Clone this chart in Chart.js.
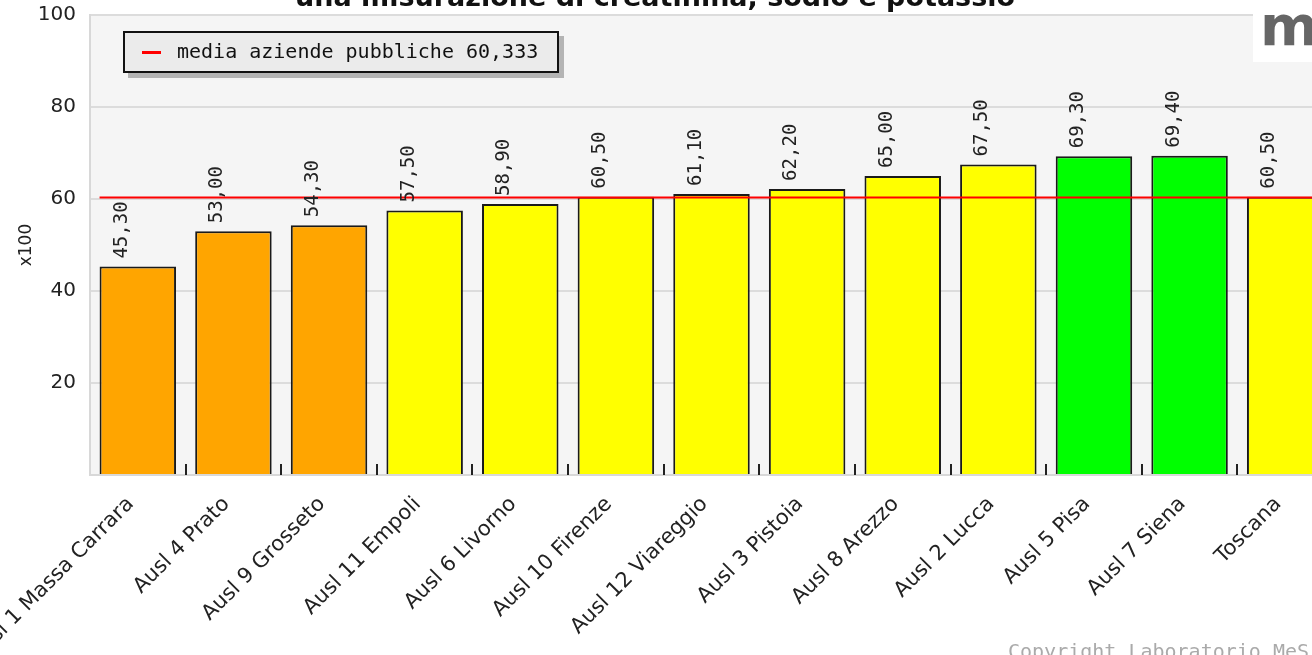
<!DOCTYPE html>
<html lang="it">
<head>
<meta charset="utf-8">
<title>Ausl Toscana</title>
<script src="https://cdn.jsdelivr.net/npm/chart.js@4.4.1/dist/chart.umd.min.js"></script>
<style>
  html, body { margin: 0; padding: 0; background: #fff; overflow: hidden; }
  #wrap { width: 1345px; height: 655px; }
</style>
</head>
<body>
<div id="wrap"><canvas id="grafico" width="1345" height="655"></canvas></div>
<script>
// aziende ordinate per valore, Toscana in coda
const AZIENDE = [
  "Ausl 1 Massa Carrara", "Ausl 4 Prato", "Ausl 9 Grosseto", "Ausl 11 Empoli",
  "Ausl 6 Livorno", "Ausl 10 Firenze", "Ausl 12 Viareggio", "Ausl 3 Pistoia",
  "Ausl 8 Arezzo", "Ausl 2 Lucca", "Ausl 5 Pisa", "Ausl 7 Siena", "Toscana"
];
const VALORI = [45.30, 53.00, 54.30, 57.50, 58.90, 60.50, 61.10, 62.20, 65.00, 67.50, 69.30, 69.40, 60.50];
const FASCE  = ["bassa", "bassa", "bassa", "media", "media", "media", "media", "media", "media", "media", "alta", "alta", "media"];
const MEDIA_PUBBLICHE = 60.333;
const TICKS_Y = [20, 40, 60, 80, 100];

const COLORI = { bassa: "#FFA500", media: "#FFFF00", alta: "#00FF00" };
const MONO = "'DejaVu Sans Mono', monospace";
const SANS = "'DejaVu Sans', sans-serif";

const virgola = (v, d) => v.toFixed(d).replace(".", ",");

// sfondo grigio dell'area del grafico
const sfondo = {
  id: "sfondo",
  beforeDraw(chart) {
    const { ctx, chartArea: a } = chart;
    ctx.save();
    ctx.fillStyle = "#f5f5f5";
    ctx.fillRect(a.left, a.top, a.right - a.left, a.bottom - a.top);
    ctx.restore();
  }
};

// tacche corte in basso tra una barra e l'altra
const tacche = {
  id: "tacche",
  afterDatasetsDraw(chart) {
    const { ctx, chartArea: a, scales: { x } } = chart;
    ctx.save();
    ctx.strokeStyle = "#222";
    ctx.lineWidth = 2;
    for (let i = 1; i < AZIENDE.length; i++) {
      const px = Math.round((x.getPixelForValue(i - 1) + x.getPixelForValue(i)) / 2);
      ctx.beginPath();
      ctx.moveTo(px, a.bottom - 11);
      ctx.lineTo(px, a.bottom);
      ctx.stroke();
    }
    ctx.restore();
  }
};

// valori scritti in verticale sopra ogni barra
const etichette = {
  id: "etichette",
  afterDatasetsDraw(chart) {
    const { ctx } = chart;
    const meta = chart.getDatasetMeta(0);
    ctx.save();
    ctx.font = "19px " + MONO;
    ctx.fillStyle = "#222";
    ctx.textAlign = "left";
    ctx.textBaseline = "alphabetic";
    meta.data.forEach((bar, i) => {
      ctx.save();
      ctx.translate(bar.x - 11, bar.y - 8);
      ctx.rotate(-Math.PI / 2);
      ctx.fillText(virgola(VALORI[i], 2), 0, 0);
      ctx.restore();
    });
    ctx.restore();
  }
};

// legenda, titolo, logo e copyright
const cornice = {
  id: "cornice",
  afterDraw(chart) {
    const { ctx } = chart;
    ctx.save();

    // riquadro legenda con ombra
    ctx.fillStyle = "#b4b4b4";
    ctx.fillRect(128, 36, 436, 42);
    ctx.fillStyle = "#ebebeb";
    ctx.fillRect(123, 31, 436, 42);
    ctx.strokeStyle = "#111";
    ctx.lineWidth = 2;
    ctx.strokeRect(124, 32, 434, 40);
    ctx.strokeStyle = "#ff0000";
    ctx.lineWidth = 3;
    ctx.beginPath();
    ctx.moveTo(142, 52.5);
    ctx.lineTo(161, 52.5);
    ctx.stroke();
    ctx.fillStyle = "#111";
    ctx.font = "20px " + MONO;
    ctx.textBaseline = "middle";
    ctx.fillText(chart.data.datasets[1].label, 177, 53);

    // titolo (seconda riga)
    ctx.font = "bold 27px " + SANS;
    ctx.textAlign = "center";
    ctx.textBaseline = "alphabetic";
    ctx.fillStyle = "#111";
    ctx.fillText("una misurazione di creatinina, sodio e potassio", 655, 6);

    // logo
    ctx.fillStyle = "#fff";
    ctx.fillRect(1253, 0, 100, 62);
    ctx.fillStyle = "#666";
    ctx.font = "bold 56px " + SANS;
    ctx.textAlign = "left";
    ctx.fillText("m", 1260, 45);

    // copyright
    ctx.fillStyle = "#aaa";
    ctx.font = "20px " + MONO;
    ctx.textBaseline = "top";
    ctx.fillText("Copyright Laboratorio MeS", 1008, 643);
    ctx.restore();
  }
};

new Chart(document.getElementById("grafico"), {
  data: {
    labels: AZIENDE,
    datasets: [
      {
        type: "bar",
        label: "valore",
        data: VALORI,
        backgroundColor: FASCE.map(f => COLORI[f]),
        borderColor: "#1a1a1a",
        borderWidth: 2,
        barPercentage: 0.8,
        categoryPercentage: 1,
        grouped: false,
        order: 1
      },
      {
        type: "line",
        label: "media aziende pubbliche " + virgola(MEDIA_PUBBLICHE, 3),
        xAxisID: "xl",
        data: [{ x: -0.4, y: MEDIA_PUBBLICHE }, { x: AZIENDE.length - 0.5, y: MEDIA_PUBBLICHE }],
        borderColor: "#ff0000",
        borderWidth: 2,
        pointRadius: 0,
        order: 0
      }
    ]
  },
  options: {
    responsive: false,
    animation: false,
    devicePixelRatio: 1,
    layout: { padding: { top: 15, right: 12, left: 0, bottom: 0 } },
    plugins: {
      legend: { display: false },
      tooltip: { enabled: false }
    },
    scales: {
      x: {
        type: "category",
        offset: true,
        afterFit: s => { s.height = 180; s.paddingLeft = 0; s.paddingRight = 0; },
        grid: { display: false },
        border: { display: true, color: "#d8d8d8", width: 2 },
        ticks: {
          autoSkip: false,
          minRotation: 45,
          maxRotation: 45,
          padding: 9,
          labelOffset: -7,
          color: "#222",
          font: { family: SANS, size: 21 }
        }
      },
      xl: {
        type: "linear",
        display: false,
        min: -0.5,
        max: AZIENDE.length - 0.5
      },
      y: {
        min: 0,
        max: 100,
        afterFit: s => { s.width = 90; s.paddingTop = 0; s.paddingBottom = 0; },
        afterBuildTicks: s => { s.ticks = [0, ...TICKS_Y].map(v => ({ value: v })); },
        grid: { color: "#dcdcdc", lineWidth: 2, drawTicks: false },
        border: { display: true, color: "#d8d8d8", width: 2 },
        ticks: {
          padding: 14,
          color: "#222",
          font: { family: SANS, size: 20 },
          callback: v => (v === 0 ? "" : v)
        },
        title: {
          display: true,
          text: "x100",
          color: "#222",
          font: { family: SANS, size: 17 },
          padding: { top: 16, bottom: 0 }
        }
      }
    }
  },
  plugins: [sfondo, tacche, etichette, cornice]
});
</script>
</body>
</html>
